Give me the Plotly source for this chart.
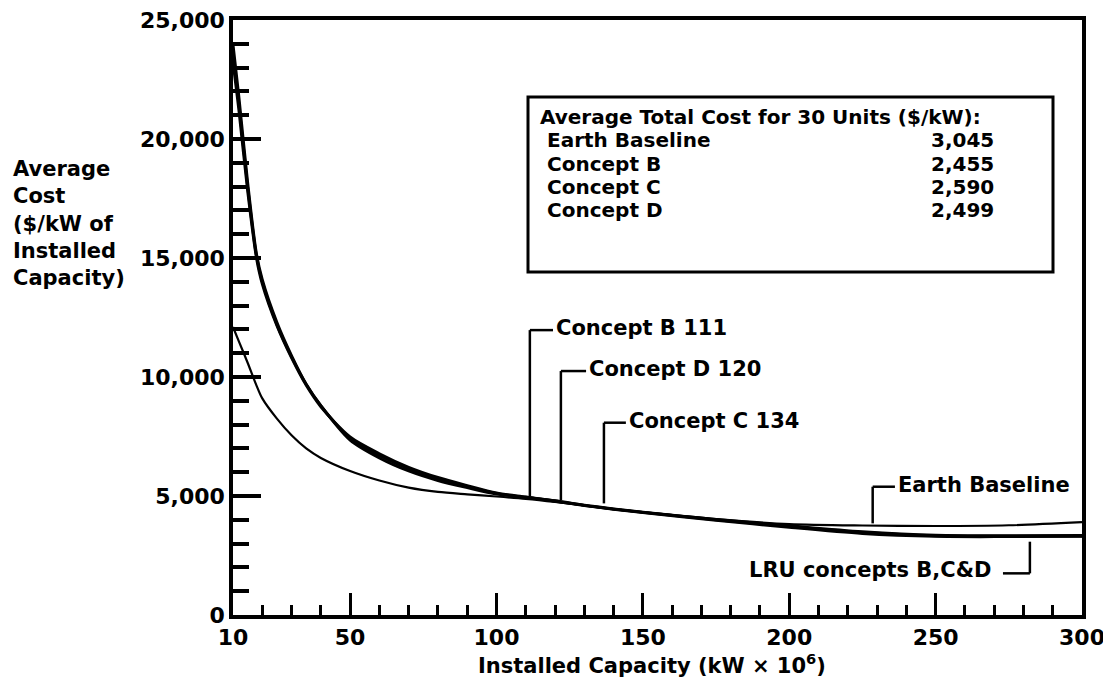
import plotly.graph_objects as go

# ---------------- data ----------------
capacity = [10, 12, 15, 18, 20, 25, 30, 35, 40, 50, 60, 70, 80, 90, 100,
            110, 120, 130, 140, 150, 175, 200, 225, 250, 275, 300]

earth_baseline = [12100, 11500, 10600, 9650, 9100, 8250, 7550, 7000, 6600, 6050,
                  5650, 5350, 5170, 5070, 4980, 4880, 4750, 4600, 4450, 4320,
                  4030, 3820, 3760, 3740, 3770, 3900]
concept_b = [24000, 21800, 18200, 15200, 14100, 12300, 10900, 9700, 8800, 7350,
             6600, 6050, 5650, 5350, 5080, 4950, 4780, 4600, 4440, 4300,
             3980, 3680, 3420, 3300, 3290, 3300]
concept_d = [23600, 21500, 18000, 15100, 14000, 12200, 10850, 9700, 8800, 7420,
             6700, 6140, 5720, 5400, 5110, 4940, 4800, 4610, 4450, 4310,
             4000, 3720, 3470, 3330, 3310, 3320]
concept_c = [23200, 21200, 17800, 15000, 13900, 12150, 10800, 9650, 8750, 7480,
             6780, 6210, 5780, 5440, 5130, 4960, 4790, 4620, 4460, 4320,
             4020, 3750, 3500, 3350, 3330, 3340]

x_ticks = [10, 50, 100, 150, 200, 250, 300]
y_ticks = [0, 5000, 10000, 15000, 20000, 25000]

box_title = "Average Total Cost for 30 Units ($/kW):"
box_labels = ["Earth Baseline", "Concept B", "Concept C", "Concept D"]
box_values = ["3,045", "2,455", "2,590", "2,499"]

# callouts: text, leader x, curve y, elbow y, horizontal end x, text side
callouts = [
    ("Concept B 111", 111.4, 5000, 11970, 119.3, "left"),
    ("Concept D 120", 122.0, 4830, 10250, 130.6, "left"),
    ("Concept C 134", 136.7, 4690, 8080, 144.2, "left"),
    ("Earth Baseline", 228.5, 3850, 5390, 236.1, "left"),
    ("LRU concepts B,C&D", 282.2, 3080, 1750, 273.0, "right"),
]

# ---------------- figure ----------------
FONT = "DejaVu Sans"
OFF = 8  # page body margin in the browser
ML, MT = 233 - OFF, 20 - OFF
PW, PH = 849, 595
MR, MB = 29, 75
W, H = ML + PW + MR, MT + PH + MB


def px(x):
    return (x - OFF - ML) / PW


def py(y):
    return (MT + PH + OFF - y) / PH


def bold(size):
    return dict(family=FONT, size=size, color="black", weight="bold")


fig = go.Figure()
fig.add_trace(go.Scatter(x=capacity, y=earth_baseline, mode="lines",
                         line=dict(color="black", width=2.2, shape="spline", smoothing=0.8),
                         name="Earth Baseline"))
for ys in (concept_b, concept_d, concept_c):
    fig.add_trace(go.Scatter(x=capacity, y=ys, mode="lines",
                             line=dict(color="black", width=2.8, shape="spline", smoothing=0.8)))

axis_common = dict(showline=True, linecolor="black", linewidth=3.5, mirror=True,
                   showgrid=False, zeroline=False, ticks="inside", tickcolor="black",
                   automargin=False, ticklabeloverflow="allow", tickfont=bold(22))

fig.update_xaxes(range=[10, 300], tickmode="array", tickvals=x_ticks,
                 ticklen=22, tickwidth=2.5,
                 minor=dict(tickvals=[v for v in range(20, 300, 10) if v not in x_ticks],
                            ticks="inside", ticklen=10, tickwidth=2.5, tickcolor="black"),
                 **axis_common)
fig.update_yaxes(range=[0, 25000], tickmode="array", tickvals=y_ticks, tickformat=",d",
                 ticklen=28, tickwidth=3.5,
                 minor=dict(tickvals=[v for v in range(1000, 25000, 1000) if v not in y_ticks],
                            ticks="inside", ticklen=16, tickwidth=3.5, tickcolor="black"),
                 **axis_common)

ann = []
shapes = []
# y-axis title (left aligned, multi-line)
ann.append(dict(xref="paper", yref="paper", x=px(11), y=py(223), xanchor="left", yanchor="middle",
                align="left", showarrow=False,
                text="Average<br>Cost<br>($/kW of<br>Installed<br>Capacity)",
                font=bold(21)))
# x-axis title
ann.append(dict(xref="paper", yref="paper", x=px(652), y=py(664), xanchor="center", yanchor="middle",
                showarrow=False, text="Installed Capacity (kW \u00d7 10<sup>6</sup>)",
                font=bold(21)))

# callouts
for text, lx, y0, y1, hx, side in callouts:
    shapes.append(dict(type="line", xref="x", yref="y", x0=lx, x1=lx, y0=y0, y1=y1,
                       line=dict(color="black", width=2.5)))
    shapes.append(dict(type="line", xref="x", yref="y", x0=lx, x1=hx, y0=y1, y1=y1,
                       line=dict(color="black", width=2.5)))
    tx = hx + (0.4 if side == "left" else -3.4)
    ty = y1 + (140 if side == "right" else 70)
    ann.append(dict(xref="x", yref="y", x=tx, y=ty, xanchor=side, yanchor="middle",
                    showarrow=False, text=text, font=bold(21)))

# summary box
shapes.append(dict(type="rect", xref="paper", yref="paper",
                   x0=px(528), x1=px(1053), y0=py(272), y1=py(97),
                   line=dict(color="black", width=3), fillcolor="white", layer="above"))
ann.append(dict(xref="paper", yref="paper", x=px(538), y=py(117), xanchor="left", yanchor="middle",
                showarrow=False, text=box_title, font=bold(20)))
row_y = [140.5, 163.8, 187.1, 210.4]
for lab, val, yy in zip(box_labels, box_values, row_y):
    ann.append(dict(xref="paper", yref="paper", x=px(545), y=py(yy), xanchor="left", yanchor="middle",
                    showarrow=False, text=lab, font=bold(20)))
    ann.append(dict(xref="paper", yref="paper", x=px(962), y=py(yy), xanchor="center", yanchor="middle",
                    showarrow=False, text=val, font=bold(20)))

fig.update_layout(width=W, height=H, margin=dict(l=ML, r=MR, t=MT, b=MB),
                  plot_bgcolor="white", paper_bgcolor="white", showlegend=False,
                  font=dict(family=FONT, color="black"),
                  annotations=ann, shapes=shapes)

fig.write_html("out.html")
